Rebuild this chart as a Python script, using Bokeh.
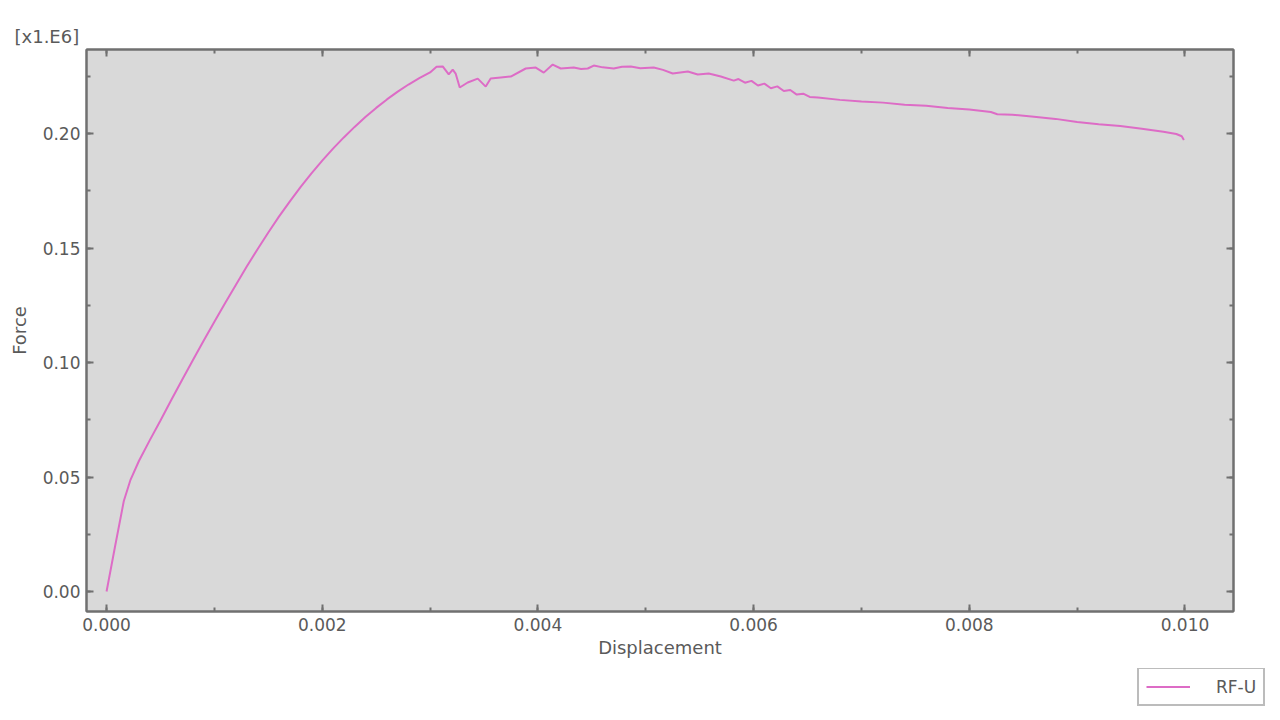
from bokeh.plotting import figure
from bokeh.models import (LinearAxis, Range1d, Legend, LegendItem, Title,
                          SingleIntervalTicker, NumeralTickFormatter)
from bokeh.embed import file_html
from bokeh.resources import INLINE

# Displacement (x) and Force (y, in units of 1E6)
displacement = [0.0, 0.00008, 0.00016, 0.00022, 0.0003, 0.0004, 0.0005, 0.0006, 0.0007,
                0.0008, 0.0009, 0.0010, 0.0011, 0.0012, 0.0013, 0.0014, 0.0015, 0.0016,
                0.0017, 0.0018, 0.0019, 0.0020, 0.0021, 0.0022, 0.0023, 0.0024, 0.0025,
                0.0026, 0.0027, 0.0028, 0.0029, 0.0030, 0.00306, 0.003117, 0.003173,
                0.00321, 0.003237, 0.003275, 0.003349, 0.003442, 0.003516, 0.003562,
                0.003655, 0.003748, 0.003887, 0.00398, 0.004054, 0.004137, 0.004212,
                0.004332, 0.00440, 0.004462, 0.004518, 0.00460, 0.004703, 0.00478, 0.004861,
                0.00495, 0.005074, 0.00516, 0.00525, 0.00539, 0.005482, 0.005584, 0.005696,
                0.005816, 0.00586, 0.00592, 0.00598, 0.00604, 0.0061, 0.00616, 0.00622,
                0.00628, 0.00634, 0.0064, 0.00646, 0.00652, 0.006596, 0.0068, 0.0070,
                0.0072, 0.0074, 0.0076, 0.0078, 0.0080, 0.0082, 0.00826, 0.0084, 0.0086,
                0.0088, 0.0090, 0.0092, 0.0094, 0.0096, 0.0098, 0.00992, 0.00997, 0.00999]
force = [0.0, 0.0200, 0.0395, 0.0485, 0.0570, 0.0660, 0.0747, 0.0836, 0.0924,
         0.1010, 0.1095, 0.1178, 0.1260, 0.1340, 0.1419, 0.1495, 0.1568, 0.1638,
         0.1704, 0.1767, 0.1826, 0.1882, 0.1934, 0.1983, 0.2029, 0.2072, 0.2112,
         0.2149, 0.2183, 0.2214, 0.2242, 0.2267, 0.2292, 0.2293, 0.2258,
         0.2279, 0.2262, 0.2201, 0.2223, 0.2240, 0.2205, 0.2240,
         0.2245, 0.2249, 0.2284, 0.2288, 0.2266, 0.2301, 0.2284,
         0.2288, 0.2282, 0.2284, 0.2297, 0.2289, 0.2284, 0.2292, 0.2293,
         0.2285, 0.2288, 0.2278, 0.2262, 0.2271, 0.2258, 0.2262, 0.2249,
         0.2231, 0.2238, 0.2222, 0.2230, 0.2210, 0.2218, 0.2198, 0.2206,
         0.2186, 0.2190, 0.2170, 0.2174, 0.2160, 0.2157, 0.2147, 0.2140,
         0.2135, 0.2126, 0.2121, 0.2112, 0.2105, 0.2094, 0.2084, 0.2082, 0.2073,
         0.2064, 0.2050, 0.2041, 0.2033, 0.2021, 0.2008, 0.1998, 0.1988, 0.1972]

series_name = "RF-U"
x_label = "Displacement"
y_label = "Force"
y_scale_note = "[x1.E6]"

FONT = "DejaVu Sans"
TXT = "#5a5a5a"
AX = "#707070"
LINE = "#dd6cc6"

p = figure(width=1272, height=668, output_backend="svg", toolbar_location=None,
           x_range=Range1d(-0.000186, 0.01045), y_range=Range1d(-0.00873, 0.2367),
           min_border_left=86, min_border_right=39, min_border_top=49, min_border_bottom=57,
           x_axis_location=None, y_axis_location=None)
p.background_fill_color = "#d9d9d9"
p.border_fill_color = "white"
p.outline_line_color = AX
p.outline_line_width = 2
p.grid.visible = False

line = p.line(displacement, force, line_color=LINE, line_width=2)

def style(ax, labels=True):
    ax.axis_line_color = AX
    ax.axis_line_width = 2
    ax.major_tick_in = 7
    ax.major_tick_out = 0
    ax.minor_tick_in = 4
    ax.minor_tick_out = 0
    ax.major_tick_line_color = AX
    ax.major_tick_line_width = 2
    ax.minor_tick_line_color = AX
    ax.minor_tick_line_width = 2
    ax.major_label_text_font = FONT
    ax.major_label_text_font_size = "17px" if labels else "0px"
    ax.major_label_text_color = TXT if labels else None
    ax.axis_label_text_font = FONT
    ax.axis_label_text_font_size = "18px"
    ax.axis_label_text_font_style = "normal"
    ax.axis_label_text_color = TXT

xt = SingleIntervalTicker(interval=0.002, num_minor_ticks=2)
yt = SingleIntervalTicker(interval=0.05, num_minor_ticks=2)

xb = LinearAxis(ticker=xt, axis_label=x_label, formatter=NumeralTickFormatter(format="0.000"))
style(xb)
xb.major_label_standoff = 6
xb.axis_label_standoff = 3
p.add_layout(xb, "below")

yl = LinearAxis(ticker=yt, axis_label=y_label, formatter=NumeralTickFormatter(format="0.00"))
style(yl)
yl.major_label_standoff = 6
yl.axis_label_standoff = 10
p.add_layout(yl, "left")

xa = LinearAxis(ticker=xt)
style(xa, labels=False)
xa.major_label_standoff = 0
p.add_layout(xa, "above")

yr = LinearAxis(ticker=yt)
style(yr, labels=False)
yr.major_label_standoff = 0
p.add_layout(yr, "right")

p.add_layout(Title(text=y_scale_note, align="left", offset=-72, text_font=FONT,
                   text_font_size="18px", text_font_style="normal", text_color=TXT,
                   standoff=6), "above")

# legend strip below the chart (separate root, so it is not aligned to the chart frame)
q = figure(width=1272, height=44, output_backend="svg", toolbar_location=None,
           x_range=Range1d(0, 1), y_range=Range1d(0, 1),
           min_border_left=0, min_border_right=0, min_border_top=0, min_border_bottom=0,
           x_axis_location=None, y_axis_location=None)
q.outline_line_color = None
q.background_fill_color = "white"
q.border_fill_color = "white"
q.grid.visible = False
# proxy renderer for the legend entry (its data lie outside the visible strip)
leg_line = q.line(displacement[-2:], [5.0, 5.0], line_color=LINE, line_width=2)
legend = Legend(items=[LegendItem(label=series_name, renderers=[leg_line])],
                location=(1137, 6), orientation="vertical",
                label_text_font=FONT, label_text_font_size="17px", label_text_color=TXT,
                border_line_color="#7a7a7a", border_line_width=2,
                background_fill_color="white", glyph_width=44, glyph_height=21,
                label_height=21, padding=7, label_standoff=26, margin=0)
q.add_layout(legend, "center")

open("out.html", "w").write(file_html([p, q], INLINE))
